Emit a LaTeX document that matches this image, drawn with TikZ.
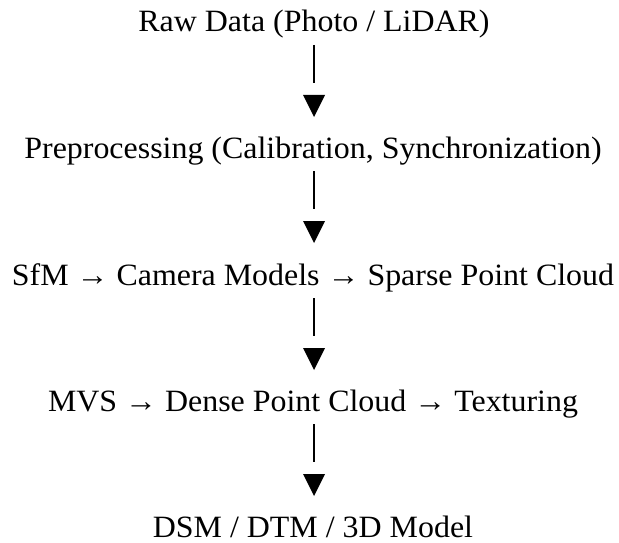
\documentclass[tikz,border=0pt]{standalone}
\usepackage{fontspec}
\setmainfont[FakeStretch=1.03]{Liberation Serif}
\begin{document}
\begin{tikzpicture}[x=1pt,y=-1pt,
  lbl/.style={anchor=base,inner sep=0pt,font=\fontsize{31}{37}\selectfont},
  barline/.style={line width=2pt},
  tip/.style={fill=black}]
\useasboundingbox (0,0) rectangle (619,543);
\node[lbl] (raw) at (314,32) {Raw Data (Photo / LiDAR)};
\node[lbl] (pre) at (313,158) {Preprocessing (Calibration, Synchronization)};
\node[lbl] (sfm) at (313,285) {SfM → Camera Models → Sparse Point Cloud};
\node[lbl] (mvs) at (313,411) {MVS → Dense Point Cloud → Texturing};
\node[lbl] (dsm) at (313,537) {DSM / DTM / 3D Model};
\foreach \y [count=\i] in {32,158,285,411}{
  \coordinate (bt\i) at (314,\y+13);
  \coordinate (bb\i) at (314,\y+51);
  \coordinate (tl\i) at (303,\y+63);
  \coordinate (tr\i) at (325,\y+63);
  \coordinate (tp\i) at (314,\y+85);
  \draw[barline] (bt\i) -- (bb\i);
  \fill[tip] (tl\i) -- (tr\i) -- (tp\i) -- cycle;
}
\end{tikzpicture}
\end{document}
